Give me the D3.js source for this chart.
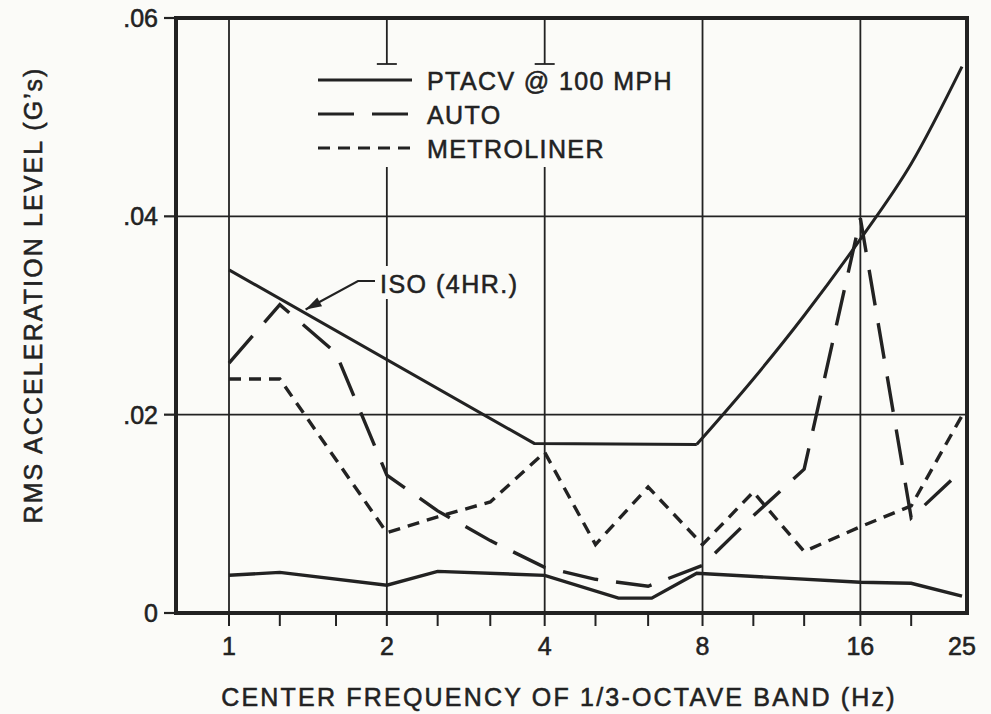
<!DOCTYPE html>
<html>
<head>
<meta charset="utf-8" />
<title>RMS acceleration level by 1/3-octave band</title>
<style>
    body { margin: 0; background: #fbfbf8; }
    svg text { font-family: "Liberation Sans", Arial, sans-serif; fill: #222; stroke: #222; stroke-width: 0.55px; }
</style>
</head>
<body>
<div id="container"></div>
<script src="https://cdn.jsdelivr.net/npm/d3@7/dist/d3.min.js"></script>
<script>
    // 1/3-octave band centres (Hz) that get a tick, and the labelled ones
    const bands = [1, 1.25, 1.6, 2, 2.5, 3.15, 4, 5, 6.3, 8, 10, 12.5, 16, 20]
    const labelledBands = [1, 2, 4, 8, 16, 25]
    const gridBands = [1, 2, 4, 8, 16]
    const yTicks = [0, 0.02, 0.04, 0.06]
    const yTickLabels = ['0', '.02', '.04', '.06']
    const gridLevels = [0.02, 0.04]

    // series (frequency in Hz, rms level in g)
    const isoFreq = [1, 3.82, 7.8, 10, 12.5, 16, 20, 25]
    const isoLevel = [0.0346, 0.0171, 0.0170, 0.0236, 0.0300, 0.0377, 0.0453, 0.0551]

    const ptacvFreq = [1, 1.25, 2, 2.5, 4, 5.53, 6.4, 7.8, 16, 20, 25]
    const ptacvLevel = [0.0038, 0.0041, 0.0028, 0.0042, 0.0038, 0.0015, 0.0015, 0.0040, 0.0031, 0.0030, 0.0017]

    const autoFreq = [1, 1.25, 1.6, 2, 2.5, 3.15, 4, 5, 6.3, 8, 10, 12.5, 16, 20, 25]
    const autoLevel = [0.0252, 0.0311, 0.0262, 0.0139, 0.0103, 0.0073, 0.0046, 0.0034, 0.0027, 0.0048, 0.0098, 0.0145, 0.0398, 0.0096, 0.0144]

    const metroFreq = [1, 1.25, 2, 2.5, 3.15, 4, 5, 6.3, 8, 10, 12.5, 16, 20, 25]
    const metroLevel = [0.0236, 0.0236, 0.0081, 0.0097, 0.0112, 0.0162, 0.0069, 0.0127, 0.0069, 0.0122, 0.0062, 0.0087, 0.0108, 0.0199]

    const legendNames = ['PTACV @ 100 MPH', 'AUTO', 'METROLINER']
    const legendDash = [null, '36,18', '12,8']

    const W = 991, H = 714
    const frame = { left: 176, right: 967, top: 18, bottom: 613 }
    const ink = '#222'
    const paper = '#fbfbf8'

    const svg = d3.select('#container').append('svg').attr('width', W).attr('height', H)

    const x = d3.scaleLog().base(2).domain([1, 25]).range([229, 962])
    const y = d3.scaleLinear().domain([0, 0.06]).range([frame.bottom, frame.top])

    // grid
    svg.append('g').selectAll('line').data(gridBands).join('line')
        .attr('x1', d => x(d)).attr('x2', d => x(d))
        .attr('y1', frame.top).attr('y2', frame.bottom)
        .attr('stroke', ink).attr('stroke-width', 1.8)
    svg.append('g').selectAll('line').data(gridLevels).join('line')
        .attr('x1', frame.left).attr('x2', frame.right)
        .attr('y1', d => y(d)).attr('y2', d => y(d))
        .attr('stroke', ink).attr('stroke-width', 1.8)

    // white patches behind the legend and the ISO note
    svg.append('rect').attr('x', 300).attr('y', 64).attr('width', 392).attr('height', 103).attr('fill', paper)
    svg.append('rect').attr('x', 376).attr('y', 266).attr('width', 148).attr('height', 33).attr('fill', paper)
    svg.append('g').selectAll('line').data([2, 4]).join('line')
        .attr('x1', d => x(d) - 10).attr('x2', d => x(d) + 10)
        .attr('y1', 64).attr('y2', 64)
        .attr('stroke', ink).attr('stroke-width', 1.8)

    // series
    const line = d3.line().x(d => x(d[0])).y(d => y(d[1]))
    const smooth = d3.line().x(d => x(d[0])).y(d => y(d[1])).curve(d3.curveMonotoneX)
    const iso = d3.zip(isoFreq, isoLevel)

    // ISO limit: straight down to the 4-8 Hz plateau, then a smooth rise
    svg.append('path').datum(iso.slice(0, 3)).attr('d', line)
        .attr('fill', 'none').attr('stroke', ink).attr('stroke-width', 3)
    svg.append('path').datum(iso.slice(2)).attr('d', smooth)
        .attr('fill', 'none').attr('stroke', ink).attr('stroke-width', 3)

    const series = [
        { f: ptacvFreq, v: ptacvLevel, dash: null },
        { f: autoFreq, v: autoLevel, dash: '36,18' },
        { f: metroFreq, v: metroLevel, dash: '12,8' }
    ]
    series.forEach(s => {
        svg.append('path')
            .datum(d3.zip(s.f, s.v))
            .attr('d', line)
            .attr('fill', 'none')
            .attr('stroke', ink)
            .attr('stroke-width', 3.4)
            .attr('stroke-dasharray', s.dash)
    })

    // frame
    svg.append('rect')
        .attr('x', frame.left).attr('y', frame.top)
        .attr('width', frame.right - frame.left).attr('height', frame.bottom - frame.top)
        .attr('fill', 'none').attr('stroke', ink).attr('stroke-width', 4)

    // x ticks and labels
    svg.append('g').selectAll('line').data(bands).join('line')
        .attr('x1', d => x(d)).attr('x2', d => x(d))
        .attr('y1', frame.bottom).attr('y2', frame.bottom + 13)
        .attr('stroke', ink).attr('stroke-width', 2)
    svg.append('g').selectAll('text').data(labelledBands).join('text')
        .attr('x', d => x(d)).attr('y', 655)
        .attr('text-anchor', 'middle').attr('font-size', 25)
        .text(d => d)

    // y ticks and labels
    svg.append('g').selectAll('line').data(yTicks).join('line')
        .attr('x1', frame.left - 12).attr('x2', frame.left)
        .attr('y1', d => y(d)).attr('y2', d => y(d))
        .attr('stroke', ink).attr('stroke-width', 2.2)
    svg.append('g').selectAll('text').data(yTicks).join('text')
        .attr('x', 158).attr('y', d => y(d)).attr('dy', '0.36em')
        .attr('text-anchor', 'end').attr('font-size', 25)
        .text((d, i) => yTickLabels[i])

    // axis titles
    svg.append('text')
        .attr('x', 559).attr('y', 706)
        .attr('text-anchor', 'middle').attr('font-size', 25)
        .style('letter-spacing', '2.2px')
        .text('CENTER FREQUENCY OF 1/3-OCTAVE BAND (Hz)')
    svg.append('text')
        .attr('transform', 'translate(42,295) rotate(-90)')
        .attr('text-anchor', 'middle').attr('font-size', 25)
        .style('letter-spacing', '2.1px')
        .text('RMS ACCELERATION LEVEL (G\u2019s)')

    // legend
    const legend = svg.append('g')
    legendNames.forEach((name, i) => {
        const cy = 80 + i * 34
        legend.append('line')
            .attr('x1', 318).attr('x2', 412).attr('y1', cy).attr('y2', cy)
            .attr('stroke', ink).attr('stroke-width', 3.2)
            .attr('stroke-dasharray', legendDash[i])
        legend.append('text')
            .attr('x', 427).attr('y', cy + 10)
            .attr('font-size', 25)
            .style('letter-spacing', '1.4px')
            .text(name)
    })

    // ISO note with arrow
    svg.append('text')
        .attr('x', 380).attr('y', 293).attr('font-size', 25)
        .style('letter-spacing', '1.5px')
        .text('ISO (4HR.)')
    const tip = [x(1.4), y(0.0306)]
    const start = [358, 281]
    svg.append('path')
        .attr('d', `M${start[0] + 17},${start[1]}L${start[0]},${start[1]}L${tip[0]},${tip[1]}`)
        .attr('fill', 'none').attr('stroke', ink).attr('stroke-width', 2.2)
    const dx = tip[0] - start[0], dy = tip[1] - start[1]
    const len = Math.hypot(dx, dy)
    const ux = dx / len, uy = dy / len
    const bx = tip[0] - ux * 16, by = tip[1] - uy * 16
    svg.append('path')
        .attr('d', `M${tip[0]},${tip[1]}L${bx - uy * 5},${by + ux * 5}L${bx + uy * 5},${by - ux * 5}Z`)
        .attr('fill', ink)
</script>
</body>
</html>
